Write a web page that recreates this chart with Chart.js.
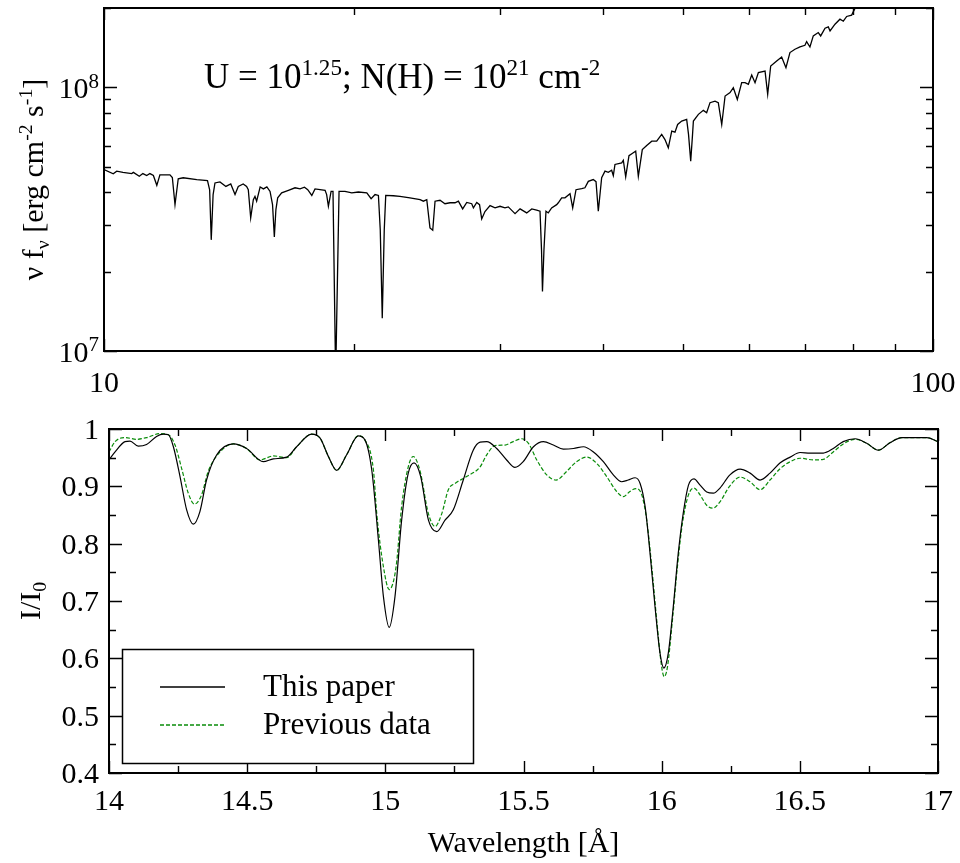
<!DOCTYPE html>
<html>
<head>
<meta charset="utf-8">
<script src="https://cdn.jsdelivr.net/npm/chart.js@4.4.0/dist/chart.umd.min.js"></script>
<style>
html,body{margin:0;padding:0;background:#fff;}
#wrap{position:relative;width:960px;height:863px;background:#fff;}
#wrap canvas{position:absolute;left:0;top:0;}
</style>
</head>
<body>
<div id="wrap">
<canvas id="topChart" width="960" height="863"></canvas>
<canvas id="bottomChart" width="960" height="863"></canvas>
</div>
<script>
// ---------------- DATA ----------------
// Top panel: spectrum, wavelength [Å] and nu f_nu in units of 1e7 erg cm^-2 s^-1
const specWavelength = [10.00,10.26,10.36,10.54,10.80,10.85,11.03,11.14,11.26,11.36,11.47,11.58,11.68,12.01,12.09,12.18,12.29,12.46,12.94,13.33,13.41,13.47,13.54,13.61,13.80,14.03,14.22,14.39,14.52,14.72,14.86,14.93,15.03,15.14,15.21,15.28,15.43,15.57,15.72,15.86,15.97,16.05,16.12,16.20,16.38,16.69,17.00,17.24,17.45,17.61,17.81,17.97,18.48,18.56,18.65,18.79,18.89,19.03,19.21,19.53,19.90,20.27,20.75,21.00,21.23,21.43,21.54,21.66,21.78,21.87,22.34,22.75,23.39,24.06,24.28,24.51,24.73,24.92,25.08,25.43,25.78,26.15,26.51,26.76,27.08,27.39,27.77,27.90,28.16,28.38,28.55,28.81,29.22,29.63,30.04,30.46,30.74,31.32,31.76,32.35,32.81,33.26,33.57,33.71,33.80,33.94,34.13,34.35,34.67,35.16,35.32,35.65,35.98,36.49,36.76,37.10,37.69,38.03,38.39,38.92,39.22,39.47,39.84,40.21,40.58,40.96,41.15,41.34,42.12,42.31,42.59,42.98,43.50,43.79,44.11,44.60,45.15,45.79,46.42,47.07,47.50,47.94,48.40,48.84,49.20,49.76,50.45,50.71,51.02,51.28,51.40,52.12,52.84,53.33,53.83,54.58,55.08,55.61,56.13,56.91,57.43,58.07,58.78,59.33,59.88,60.44,61.00,61.57,62.72,63.18,63.71,64.78,65.68,66.47,67.21,68.15,69.11,70.07,70.40,71.05,71.71,72.71,73.20,74.09,74.77,75.13,76.17,77.23,77.95,78.68,79.78,80.51,81.63];
const specFluxE7 = [4.88,4.70,4.81,4.76,4.71,4.76,4.60,4.71,4.63,4.71,4.63,4.25,4.66,4.66,4.55,3.59,4.50,4.54,4.47,4.43,4.09,2.64,3.92,4.34,4.38,4.21,4.30,3.92,4.21,4.30,4.21,4.09,3.20,3.75,3.86,3.70,4.19,4.12,4.19,4.03,3.59,2.71,3.44,3.81,3.98,4.07,4.16,4.12,4.18,4.09,3.89,4.12,4.07,3.92,3.54,4.03,4.03,0.80,4.03,4.03,3.98,4.01,3.98,3.78,3.92,3.89,2.88,1.33,2.88,3.89,3.88,3.86,3.81,3.75,3.70,3.75,2.93,2.87,3.70,3.73,3.62,3.65,3.65,3.70,3.46,3.66,3.62,3.49,3.66,3.59,3.17,3.38,3.56,3.49,3.54,3.49,3.52,3.32,3.46,3.34,3.46,3.42,3.39,2.42,1.68,2.42,3.39,3.34,3.49,3.59,3.65,3.81,3.81,3.95,3.49,4.09,4.13,4.16,4.40,4.47,4.39,3.39,4.54,4.81,4.76,4.85,4.63,5.10,5.17,5.29,4.58,5.51,5.65,5.73,4.60,5.81,6.02,6.25,6.25,6.63,6.34,5.90,6.82,6.76,7.23,7.45,7.56,6.63,5.25,6.63,7.45,7.90,8.18,8.01,8.75,8.87,8.75,7.23,9.27,9.55,9.97,9.00,10.42,10.42,10.27,11.14,10.42,11.37,11.53,9.41,12.05,12.59,13.04,11.88,13.55,13.95,14.23,14.44,14.92,14.23,15.67,16.14,15.67,16.76,16.96,16.37,17.36,18.14,17.82,18.57,18.79,19.92,21.05];

// Bottom panel: transmission I/I0
const thisPaperWavelength = [14.000,14.022,14.058,14.076,14.106,14.136,14.172,14.197,14.215,14.233,14.257,14.281,14.305,14.329,14.353,14.390,14.450,14.498,14.558,14.595,14.643,14.679,14.733,14.764,14.794,14.824,14.860,14.902,14.926,14.951,14.975,14.993,15.014,15.035,15.059,15.083,15.104,15.128,15.156,15.186,15.216,15.246,15.282,15.318,15.343,15.367,15.403,15.439,15.469,15.499,15.536,15.572,15.608,15.644,15.681,15.717,15.753,15.789,15.825,15.855,15.879,15.904,15.922,15.940,15.958,15.976,15.994,16.008,16.024,16.042,16.060,16.078,16.097,16.117,16.139,16.163,16.187,16.211,16.247,16.284,16.320,16.356,16.392,16.429,16.465,16.501,16.537,16.585,16.621,16.657,16.700,16.742,16.784,16.826,16.869,16.911,16.959,17.000];
const thisPaperI = [0.946,0.960,0.978,0.979,0.970,0.973,0.987,0.991,0.990,0.969,0.917,0.859,0.834,0.856,0.911,0.955,0.974,0.966,0.943,0.948,0.951,0.969,0.991,0.984,0.952,0.928,0.955,0.988,0.981,0.928,0.806,0.708,0.654,0.708,0.841,0.923,0.941,0.917,0.841,0.821,0.841,0.859,0.911,0.963,0.977,0.978,0.966,0.946,0.933,0.943,0.969,0.978,0.972,0.965,0.966,0.969,0.960,0.943,0.920,0.908,0.911,0.915,0.905,0.865,0.783,0.690,0.609,0.583,0.609,0.690,0.783,0.853,0.902,0.913,0.902,0.890,0.888,0.897,0.920,0.930,0.923,0.911,0.923,0.941,0.951,0.959,0.958,0.958,0.966,0.978,0.983,0.975,0.963,0.976,0.985,0.985,0.985,0.978];
const previousWavelength = [14.000,14.022,14.058,14.100,14.136,14.185,14.215,14.239,14.263,14.287,14.309,14.335,14.359,14.402,14.450,14.498,14.546,14.595,14.643,14.679,14.733,14.764,14.794,14.824,14.860,14.902,14.926,14.957,14.969,14.993,15.014,15.039,15.059,15.083,15.101,15.125,15.156,15.180,15.204,15.228,15.252,15.294,15.343,15.367,15.397,15.433,15.463,15.493,15.518,15.548,15.584,15.618,15.656,15.692,15.729,15.765,15.801,15.837,15.861,15.885,15.907,15.928,15.946,15.964,15.982,16.000,16.009,16.021,16.039,16.057,16.075,16.097,16.117,16.139,16.163,16.185,16.211,16.247,16.284,16.320,16.356,16.392,16.429,16.465,16.501,16.549,16.585,16.621,16.657,16.700,16.742,16.784,16.826,16.869,16.911,16.959,17.000];
const previousI = [0.960,0.978,0.985,0.982,0.985,0.992,0.990,0.972,0.931,0.888,0.869,0.885,0.926,0.960,0.974,0.966,0.946,0.953,0.950,0.969,0.991,0.984,0.952,0.928,0.955,0.988,0.981,0.928,0.852,0.760,0.720,0.760,0.865,0.934,0.952,0.928,0.852,0.830,0.852,0.894,0.905,0.917,0.934,0.955,0.971,0.972,0.978,0.983,0.975,0.946,0.920,0.911,0.926,0.943,0.951,0.940,0.917,0.891,0.882,0.891,0.896,0.885,0.841,0.760,0.667,0.585,0.568,0.585,0.667,0.760,0.835,0.885,0.897,0.885,0.867,0.862,0.873,0.901,0.916,0.908,0.894,0.911,0.931,0.943,0.949,0.946,0.947,0.960,0.974,0.982,0.975,0.963,0.976,0.985,0.985,0.985,0.978];

// Tick values
const topXMajor = [10, 100];
const topXMinor = [20, 30, 40, 50, 60, 70, 80, 90];
const topYMajor = [1e7, 1e8];
const topYMinor = [2e7, 3e7, 4e7, 5e7, 6e7, 7e7, 8e7, 9e7, 2e8];
const botXMajor = [14, 14.5, 15, 15.5, 16, 16.5, 17];
const botXMinor = [14.25, 14.75, 15.25, 15.75, 16.25, 16.75];
const botYMajor = [0.4, 0.5, 0.6, 0.7, 0.8, 0.9, 1];
const botYMinor = [0.45, 0.55, 0.65, 0.75, 0.85, 0.95];

// Texts
const seriesLabels = ['This paper', 'Previous data'];
const xTitle = 'Wavelength [Å]';
const topYTitle = [['ν f',0],['ν',-1],[' [erg cm',0],['-2',1],[' s',0],['-1',1],[']',0]];
const botYTitle = [['I/I',0],['0',-1]];
const annotation = [['U = 10',0],['1.25',1],['; N(H) = 10',0],['21',1],[' cm',0],['-2',1]];

// ---------------- HELPERS ----------------
const FONT = '"Liberation Serif","Times New Roman",Times,serif';
const GREEN = 'rgb(10,140,10)';

function rich(ctx, parts, x, y, align, size, supScale) {
  supScale = supScale || 0.66;
  const fonts = parts.map(p => (p[1] ? size * supScale : size) + 'px ' + FONT);
  const widths = parts.map((p, i) => { ctx.font = fonts[i]; return ctx.measureText(p[0]).width; });
  const total = widths.reduce((s, w) => s + w, 0);
  let cx = align === 'right' ? x - total : (align === 'center' ? x - total / 2 : x);
  ctx.textAlign = 'left';
  ctx.textBaseline = 'alphabetic';
  parts.forEach((p, i) => {
    ctx.font = fonts[i];
    const dy = p[1] === 1 ? -size * 0.36 : (p[1] === -1 ? size * 0.2 : 0);
    ctx.fillText(p[0], cx, y + dy);
    cx += widths[i];
  });
}

function frameAndTicks(chart, xMaj, xMin, yMaj, yMin) {
  const ctx = chart.ctx, a = chart.chartArea, xs = chart.scales.x, ys = chart.scales.y;
  ctx.save();
  ctx.strokeStyle = '#000';
  ctx.lineWidth = 1.4;
  ctx.beginPath();
  const xt = (vals, L) => vals.forEach(v => {
    const px = Math.round(xs.getPixelForValue(v)) + 0.5;
    ctx.moveTo(px, a.bottom); ctx.lineTo(px, a.bottom - L);
    ctx.moveTo(px, a.top); ctx.lineTo(px, a.top + L);
  });
  const yt = (vals, L) => vals.forEach(v => {
    const py = Math.round(ys.getPixelForValue(v)) + 0.5;
    ctx.moveTo(a.left, py); ctx.lineTo(a.left + L, py);
    ctx.moveTo(a.right, py); ctx.lineTo(a.right - L, py);
  });
  xt(xMaj, 12); xt(xMin, 7); yt(yMaj, 13); yt(yMin, 7);
  ctx.stroke();
  ctx.lineWidth = 2;
  ctx.strokeRect(a.left, a.top, a.right - a.left, a.bottom - a.top);
  ctx.restore();
}

const topDecor = {
  id: 'topDecor',
  afterDraw(chart) {
    const ctx = chart.ctx, a = chart.chartArea, xs = chart.scales.x, ys = chart.scales.y;
    frameAndTicks(chart, topXMajor, topXMinor, topYMajor, topYMinor);
    ctx.save();
    ctx.fillStyle = '#000';
    ctx.font = '30px ' + FONT; ctx.textAlign = 'center'; ctx.textBaseline = 'alphabetic';
    topXMajor.forEach(v => ctx.fillText(String(v), xs.getPixelForValue(v), a.bottom + 41));
    topYMajor.forEach(v => {
      const e = Math.round(Math.log10(v));
      rich(ctx, [['10',0],[String(e),1]], a.left - 5, ys.getPixelForValue(v) + 11, 'right', 30, 0.7);
    });
    ctx.save();
    ctx.translate(43, (a.top + a.bottom) / 2);
    ctx.rotate(-Math.PI / 2);
    rich(ctx, topYTitle, 0, 0, 'center', 30);
    ctx.restore();
    rich(ctx, annotation, 204, 88, 'left', 35);
    ctx.restore();
  }
};

const bottomDecor = {
  id: 'bottomDecor',
  afterDraw(chart) {
    const ctx = chart.ctx, a = chart.chartArea, xs = chart.scales.x, ys = chart.scales.y;
    frameAndTicks(chart, botXMajor, botXMinor, botYMajor, botYMinor);
    ctx.save();
    ctx.fillStyle = '#000';
    ctx.font = '30px ' + FONT; ctx.textBaseline = 'alphabetic';
    ctx.textAlign = 'center';
    botXMajor.forEach(v => ctx.fillText(String(v), xs.getPixelForValue(v), a.bottom + 37));
    ctx.textAlign = 'right';
    botYMajor.forEach(v => ctx.fillText(String(v), a.left - 10, ys.getPixelForValue(v) + 10));
    ctx.textAlign = 'center';
    ctx.fillText(xTitle, (a.left + a.right) / 2, 852);
    ctx.save();
    ctx.translate(40, (a.top + a.bottom) / 2);
    ctx.rotate(-Math.PI / 2);
    rich(ctx, botYTitle, 0, 0, 'center', 30);
    ctx.restore();
    // legend
    const ds = chart.data.datasets;
    ctx.fillStyle = '#fff';
    ctx.fillRect(122, 649, 351, 114);
    ctx.strokeStyle = '#000'; ctx.lineWidth = 1.5;
    ctx.strokeRect(122.5, 649.5, 351, 114);
    const rows = [687, 725];
    ds.forEach((d, i) => {
      ctx.save();
      ctx.strokeStyle = d.borderColor; ctx.lineWidth = 1.4;
      ctx.setLineDash(d.borderDash || []);
      ctx.beginPath(); ctx.moveTo(160, rows[i]); ctx.lineTo(225, rows[i]); ctx.stroke();
      ctx.restore();
      ctx.fillStyle = '#000'; ctx.font = '31px ' + FONT; ctx.textAlign = 'left';
      ctx.fillText(d.label, 263, rows[i] + 9);
    });
    ctx.restore();
  }
};

const hiddenAxis = (extra) => Object.assign({
  ticks: { display: false }, grid: { display: false }, border: { display: false }, title: { display: false }
}, extra);

new Chart(document.getElementById('topChart'), {
  type: 'line',
  data: {
    datasets: [{
      label: 'Spectrum',
      data: specWavelength.map((w, i) => ({ x: w, y: specFluxE7[i] * 1e7 })),
      borderColor: '#000', borderWidth: 1.3, pointRadius: 0, tension: 0, fill: false, clip: 0
    }]
  },
  options: {
    responsive: false, animation: false, events: [],
    layout: { padding: { left: 104, right: 27, top: 8, bottom: 512 } },
    scales: {
      x: hiddenAxis({ type: 'logarithmic', min: 10, max: 100, afterFit(s) { s.height = 0; } }),
      y: hiddenAxis({ type: 'logarithmic', min: 1e7, max: 2e8, afterFit(s) { s.width = 0; } })
    },
    plugins: { legend: { display: false }, tooltip: { enabled: false } }
  },
  plugins: [topDecor]
});

new Chart(document.getElementById('bottomChart'), {
  type: 'line',
  data: {
    datasets: [{
      label: seriesLabels[0],
      data: thisPaperWavelength.map((w, i) => ({ x: w, y: thisPaperI[i] })),
      borderColor: '#000', borderWidth: 1.2, pointRadius: 0, cubicInterpolationMode: 'monotone', fill: false, clip: 0
    }, {
      label: seriesLabels[1],
      data: previousWavelength.map((w, i) => ({ x: w, y: previousI[i] })),
      borderColor: GREEN, borderWidth: 1.2, borderDash: [4, 2], pointRadius: 0, cubicInterpolationMode: 'monotone', fill: false, clip: 0
    }]
  },
  options: {
    responsive: false, animation: false, events: [],
    layout: { padding: { left: 109, right: 22, top: 429, bottom: 90 } },
    scales: {
      x: hiddenAxis({ type: 'linear', min: 14, max: 17, afterFit(s) { s.height = 0; } }),
      y: hiddenAxis({ type: 'linear', min: 0.4, max: 1, afterFit(s) { s.width = 0; } })
    },
    plugins: { legend: { display: false }, tooltip: { enabled: false } }
  },
  plugins: [bottomDecor]
});
</script>
</body>
</html>
